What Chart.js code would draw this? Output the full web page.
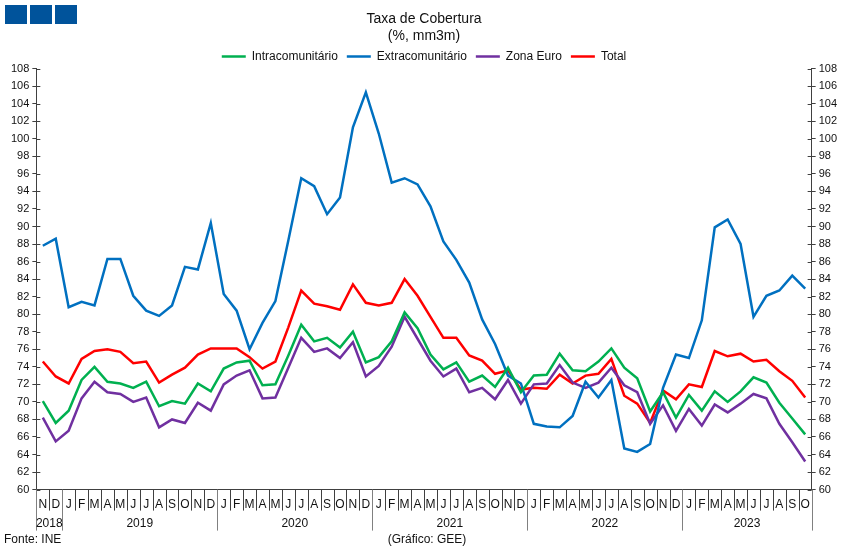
<!DOCTYPE html>
<html>
<head>
<meta charset="utf-8">
<script src="https://cdn.jsdelivr.net/npm/chart.js@4/dist/chart.umd.min.js"></script>
<style>
  html, body { margin: 0; padding: 0; background: #fff; }
  #wrap { width: 850px; height: 553px; }
</style>
</head>
<body>
<div id="wrap"><canvas id="chart" width="850" height="553"></canvas></div>
<script>
// Month tick labels, Nov 2018 .. Oct 2023
const monthLabels = [
  'N','D',
  'J','F','M','A','M','J','J','A','S','O','N','D',
  'J','F','M','A','M','J','J','A','S','O','N','D',
  'J','F','M','A','M','J','J','A','S','O','N','D',
  'J','F','M','A','M','J','J','A','S','O','N','D',
  'J','F','M','A','M','J','J','A','S','O'
];
const yearLabels = ['2018', '2019', '2020', '2021', '2022', '2023'];
const yearSpans = [2, 12, 12, 12, 12, 10];

const intraValues = [
  70.1, 67.6,
  69.0, 72.5, 74.0, 72.3, 72.1, 71.6, 72.3, 69.5, 70.1, 69.8, 72.1, 71.2,
  73.8, 74.5, 74.7, 71.9, 72.0, 75.3, 78.8, 76.9, 77.3, 76.2, 78.0, 74.5,
  75.1, 76.9, 80.2, 78.4, 75.4, 73.7, 74.5, 72.3, 73.0, 71.7, 73.9, 71.1,
  73.0, 73.1, 75.5, 73.6, 73.5, 74.6, 76.1, 73.9, 72.7, 68.9, 71.1, 68.2,
  70.8, 69.0, 71.2, 70.0, 71.2, 72.8, 72.2, 69.9, 68.1, 66.3
];
const extraValues = [
  87.8, 88.6,
  80.8, 81.4, 81.0, 86.3, 86.3, 82.1, 80.4, 79.8, 81.0, 85.4, 85.1, 90.4,
  82.3, 80.4, 76.0, 79.0, 81.5, 88.4, 95.5, 94.6, 91.4, 93.3, 101.3, 105.3,
  100.6, 95.0, 95.5, 94.8, 92.3, 88.3, 86.2, 83.6, 79.4, 76.6, 73.0, 72.1,
  67.5, 67.2, 67.1, 68.4, 72.3, 70.5, 72.5, 64.7, 64.3, 65.2, 71.6, 75.4,
  75.0, 79.3, 89.9, 90.8, 88.0, 79.7, 82.1, 82.7, 84.4, 82.9
];
const euroValues = [
  68.2, 65.5,
  66.7, 70.4, 72.3, 71.1, 70.9, 70.0, 70.5, 67.1, 68.0, 67.6, 69.9, 69.0,
  72.0, 73.0, 73.6, 70.4, 70.5, 73.9, 77.3, 75.7, 76.1, 75.0, 76.8, 72.9,
  74.1, 76.3, 79.7, 77.2, 74.7, 72.9, 73.8, 71.1, 71.6, 70.3, 72.5, 69.8,
  72.0, 72.1, 74.2, 72.2, 71.6, 72.2, 73.9, 71.9, 71.1, 67.5, 69.6, 66.7,
  69.2, 67.3, 69.7, 68.8, 69.8, 70.9, 70.4, 67.5, 65.4, 63.2
];
const totalValues = [
  74.6, 72.9,
  72.1, 74.9, 75.8, 76.0, 75.7, 74.4, 74.6, 72.2, 73.1, 73.9, 75.4, 76.1,
  76.1, 76.1, 75.1, 73.8, 74.6, 78.5, 82.7, 81.2, 80.9, 80.5, 83.4, 81.3,
  81.0, 81.3, 84.0, 82.1, 79.7, 77.3, 77.3, 75.3, 74.7, 73.2, 73.6, 71.4,
  71.6, 71.5, 73.1, 72.1, 73.0, 73.2, 74.9, 70.7, 69.8, 67.6, 71.3, 70.3,
  72.0, 71.7, 75.8, 75.2, 75.5, 74.6, 74.8, 73.5, 72.4, 70.5
];

const axisColor = '#404040';
const textColor = '#111';
const fontFamily = '"Liberation Sans", Arial, sans-serif';

// Draws logo squares, tick marks, month/year separators and footer texts
const decorPlugin = {
  id: 'decor',
  beforeLayout(chart) {
    // legend box a bit shorter than Chart.js makes it
    const lg = chart.legend;
    if (lg && !lg._shortened) {
      const fit = lg.fit;
      lg.fit = function () { fit.call(this); this.height -= 4; };
      lg._shortened = true;
    }
  },
  afterDraw(chart) {
    const ctx = chart.ctx;
    const area = chart.chartArea;
    const x = chart.scales.x;
    ctx.save();

    // logo squares
    ctx.fillStyle = '#00539b';
    [5, 30, 55].forEach(left => ctx.fillRect(left, 5, 22, 19));

    // inward tick marks on both y axes
    ctx.strokeStyle = axisColor;
    ctx.lineWidth = 1;
    ['y', 'y2'].forEach(id => {
      const s = chart.scales[id];
      const ax = id === 'y' ? area.left : area.right;
      const dir = id === 'y' ? 1 : -1;
      s.ticks.forEach(t => {
        const py = Math.round(s.getPixelForValue(t.value)) + 0.5;
        ctx.beginPath();
        ctx.moveTo(ax, py);
        ctx.lineTo(ax + dir * 4, py);
        ctx.stroke();
      });
    });

    // month and year separators
    const bottom = area.bottom;
    const n = monthLabels.length;
    const yearStarts = [];
    let acc = 0;
    yearSpans.forEach(s => { yearStarts.push(acc); acc += s; });
    const edge = i => {
      if (i <= 0) return area.left;
      if (i >= n) return area.right;
      return (x.getPixelForValue(i - 1) + x.getPixelForValue(i)) / 2;
    };
    for (let i = 0; i <= n; i++) {
      const px = Math.round(edge(i)) + 0.5;
      const isYear = i === 0 || i === n || yearStarts.includes(i);
      ctx.strokeStyle = isYear ? '#808080' : axisColor;
      ctx.beginPath();
      ctx.moveTo(px, bottom);
      ctx.lineTo(px, bottom + (isYear ? 41 : 21));
      ctx.stroke();
    }

    // year labels
    ctx.fillStyle = textColor;
    ctx.font = '12px ' + fontFamily;
    ctx.textAlign = 'center';
    ctx.textBaseline = 'middle';
    yearLabels.forEach((lab, k) => {
      const a = edge(yearStarts[k]);
      const b = edge(yearStarts[k] + yearSpans[k]);
      ctx.fillText(lab, (a + b) / 2, bottom + 34);
    });

    // footer
    ctx.textAlign = 'left';
    ctx.fillText('Fonte: INE', 4, bottom + 50);
    ctx.textAlign = 'center';
    ctx.fillText('(Gráfico: GEE)', 427, bottom + 50);
    ctx.restore();
  }
};

function makeDataset(label, data, color) {
  return {
    label: label,
    data: data,
    borderColor: color,
    backgroundColor: color,
    borderWidth: 2.5,
    pointRadius: 0,
    tension: 0,
    fill: false,
    yAxisID: 'y'
  };
}

const chart = new Chart(document.getElementById('chart'), {
  type: 'line',
  data: {
    labels: monthLabels,
    datasets: [
      makeDataset('Intracomunitário', intraValues, '#00b050'),
      makeDataset('Extracomunitário', extraValues, '#0070c0'),
      makeDataset('Zona Euro', euroValues, '#7030a0'),
      makeDataset('Total', totalValues, '#ff0000')
    ]
  },
  options: {
    responsive: false,
    animation: false,
    layout: { padding: { left: 8, right: 10, top: 7, bottom: 41 } },
    plugins: {
      tooltip: { enabled: false },
      title: {
        display: true,
        text: ['Taxa de Cobertura', '(%, mm3m)'],
        color: textColor,
        font: { family: fontFamily, size: 14, weight: 'normal', lineHeight: 1.2 },
        padding: { top: 4, bottom: -3 }
      },
      legend: {
        display: true,
        position: 'top',
        labels: {
          usePointStyle: true,
          pointStyle: 'line',
          pointStyleWidth: 24,
          boxHeight: 10,
          padding: 9,
          color: textColor,
          font: { family: fontFamily, size: 12 }
        }
      }
    },
    scales: {
      x: {
        type: 'category',
        offset: true,
        grid: { display: false },
        border: { display: true, color: axisColor },
        ticks: {
          autoSkip: false,
          maxRotation: 0,
          padding: 0,
          color: textColor,
          font: { family: fontFamily, size: 12 }
        }
      },
      y: {
        position: 'left',
        min: 60,
        max: 108,
        ticks: {
          stepSize: 2,
          autoSkip: false,
          padding: 3,
          color: textColor,
          font: { family: fontFamily, size: 11 }
        },
        grid: { drawOnChartArea: false, tickLength: 4, color: axisColor },
        border: { display: true, color: axisColor }
      },
      y2: {
        position: 'right',
        min: 60,
        max: 108,
        ticks: {
          stepSize: 2,
          autoSkip: false,
          padding: 3,
          color: textColor,
          font: { family: fontFamily, size: 11 }
        },
        grid: { drawOnChartArea: false, tickLength: 4, color: axisColor },
        border: { display: true, color: axisColor }
      }
    }
  },
  plugins: [decorPlugin]
});
</script>
</body>
</html>
